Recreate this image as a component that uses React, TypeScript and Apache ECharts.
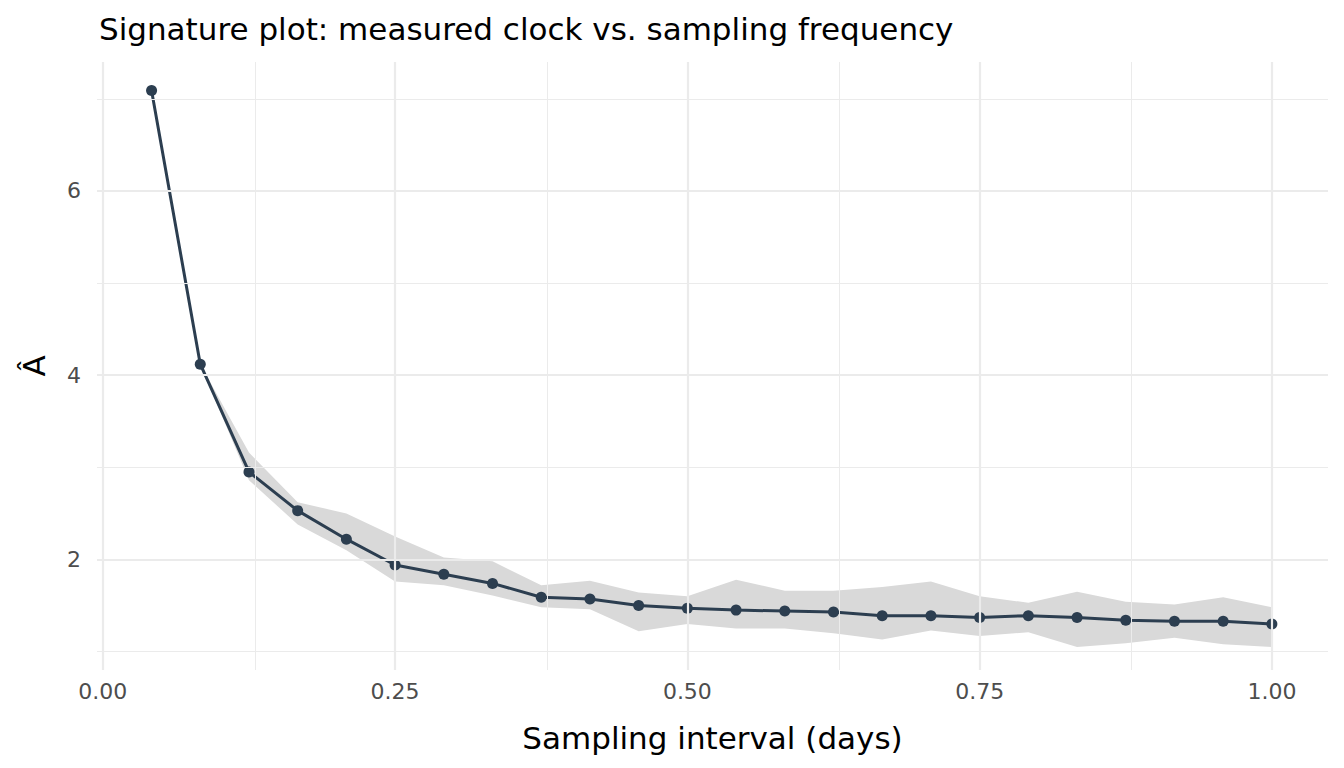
import { useEffect, useRef } from "react";
import * as echarts from "echarts";

const intervals = Array.from({ length: 24 }, (_, i) => (i + 1) / 24);
const estimate = [7.09, 4.12, 2.95, 2.53, 2.22, 1.94, 1.84, 1.74, 1.59, 1.57, 1.5, 1.47, 1.45, 1.44, 1.43, 1.39, 1.39, 1.37, 1.39, 1.37, 1.34, 1.33, 1.33, 1.3];
// band begins at the second point
const bandUpper = [4.12, 3.16, 2.62, 2.5, 2.25, 2.02, 1.98, 1.72, 1.77, 1.64, 1.6, 1.78, 1.66, 1.66, 1.7, 1.76, 1.6, 1.53, 1.65, 1.54, 1.51, 1.59, 1.48];
const bandLower = [4.12, 2.86, 2.38, 2.1, 1.76, 1.72, 1.61, 1.48, 1.46, 1.22, 1.3, 1.25, 1.25, 1.2, 1.13, 1.23, 1.17, 1.21, 1.05, 1.09, 1.15, 1.08, 1.05];
const xTicks = [0, 0.25, 0.5, 0.75, 1];
const xMinor = [0.125, 0.375, 0.625, 0.875];
const yTicks = [2, 4, 6];
const yMinor = [1, 3, 5, 7];

function App() {
  const ref = useRef<HTMLDivElement>(null);

  useEffect(() => {
    document.body.style.margin = "0";
    if (!ref.current) return;
    const chart = echarts.init(ref.current, undefined, { renderer: "svg" });
    const font = "DejaVu Sans";
    const grid = (w: number) => ({ color: "#ebebeb", width: w, type: "solid" as const });
    const bandX = intervals.slice(1);

    chart.setOption({
      animation: false,
      backgroundColor: "#fff",
      textStyle: { fontFamily: font },
      title: {
        text: "Signature plot: measured clock vs. sampling frequency",
        left: 94,
        top: 8,
        textStyle: { fontSize: 31, fontWeight: "normal", color: "#000", fontFamily: font },
      },
      graphic: [
        {
          type: "text",
          x: 34,
          y: 366,
          rotation: Math.PI / 2,
          style: { text: "Â", fontSize: 31, fill: "#000", fontFamily: font, align: "center", verticalAlign: "middle" },
        },
      ],
      grid: { left: 97, right: 16, top: 62, bottom: 98 },
      xAxis: {
        type: "value",
        min: -0.005,
        max: 1.048,
        name: "Sampling interval (days)",
        nameLocation: "middle",
        nameGap: 52,
        nameTextStyle: { fontSize: 31, color: "#000", fontFamily: font },
        axisLine: { show: false },
        axisTick: { show: false, customValues: xTicks },
        splitLine: { show: false },
        axisLabel: {
          customValues: xTicks,
          color: "#4d4d4d",
          fontSize: 22,
          margin: 10,
          fontFamily: font,
          formatter: (v: number) => v.toFixed(2),
        },
      },
      yAxis: {
        type: "value",
        min: 0.8,
        max: 7.4,
        axisLine: { show: false },
        axisTick: { show: false, customValues: yTicks },
        splitLine: { show: false },
        axisLabel: { customValues: yTicks, color: "#4d4d4d", fontSize: 22, margin: 16, fontFamily: font },
      },
      series: [
        {
          type: "line",
          data: [],
          silent: true,
          markLine: {
            symbol: "none",
            silent: true,
            label: { show: false },
            data: [
              ...xMinor.map((v) => ({ xAxis: v, lineStyle: grid(1) })),
              ...yMinor.map((v) => ({ yAxis: v, lineStyle: grid(1) })),
              ...xTicks.map((v) => ({ xAxis: v, lineStyle: grid(2.2) })),
              ...yTicks.map((v) => ({ yAxis: v, lineStyle: grid(2.2) })),
            ],
          },
        },
        {
          type: "custom",
          silent: true,
          data: [[0]],
          renderItem: (_p: any, api: any) => {
            const pts = [
              ...bandX.map((x, i) => api.coord([x, bandUpper[i]])),
              ...bandX.map((x, i) => api.coord([x, bandLower[i]])).reverse(),
            ];
            return { type: "polygon", shape: { points: pts }, style: { fill: "#d9d9d9" } };
          },
        },
        {
          type: "line",
          data: intervals.map((x, i) => [x, estimate[i]]),
          symbol: "circle",
          symbolSize: 11,
          lineStyle: { color: "#2c3e50", width: 3 },
          itemStyle: { color: "#2c3e50" },
        },
      ],
    });

    return () => chart.dispose();
  }, []);

  return <div ref={ref} style={{ width: "1344px", height: "768px" }} />;
}

export default App;
